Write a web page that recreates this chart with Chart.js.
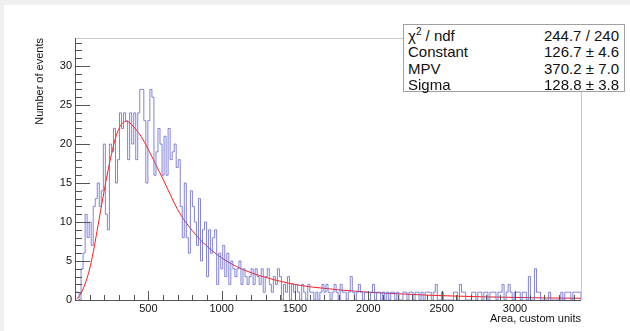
<!DOCTYPE html>
<html>
<head>
<meta charset="utf-8">
<script src="https://cdn.jsdelivr.net/npm/chart.js@4"></script>
<style>
  html, body { margin: 0; padding: 0; background: #f0f0f0; }
  #wrap { position: absolute; left: 4px; top: 5px; width: 626px; height: 326px; background: #fff; }
  #chart { position: absolute; left: 0; top: 0; }
  #stats {
    position: absolute; left: 399px; top: 19px; width: 220px; height: 66px;
    background: #fff; border: 1px solid #a0a0a0;
    font-family: "Liberation Sans", Arial, sans-serif; font-size: 15px; color: #111;
  }
  #stats .row { position: absolute; left: 4px; right: 5px; height: 17px; line-height: 17px; }
  #stats .k { position: absolute; left: 0; }
  #stats .v { position: absolute; right: 0; }
  #stats sup { font-size: 10px; line-height: 0; vertical-align: 6px; }
</style>
</head>
<body>
<div id="wrap">
  <canvas id="chart" width="626" height="326"></canvas>
  <div id="stats"></div>
</div>
<script>
// Histogram of pulse area with a Landau fit
const xMin = 0;
const xMax = 3450;
const yMax = 33.6;

// bin contents, 250 bins from xMin to xMax
const counts = [
    1, 1, 1, 0, 4,     6, 11, 8, 10, 7,    12, 13, 15, 12, 14,  20, 11, 9, 20, 19,
    22, 15, 18, 24, 22, 24, 23, 18, 24, 20, 24, 18, 24, 27, 27,  23, 15, 23, 27, 26,
    16, 19, 22, 20, 16, 21, 16, 22, 18, 19, 20, 17, 18, 12, 8,   15, 8, 6, 14, 12,
    10, 7, 13, 5, 9,    10, 3, 9, 6, 8,     9, 2, 6, 4, 7,       3, 6, 2, 5, 4,
    3, 4, 5, 2, 4,      3, 2, 3, 4, 2,      4, 3, 2, 4, 1,       3, 4, 2, 1, 3,
    2, 4, 3, 0, 2,      1, 3, 0, 2, 1,      2, 1, 0, 2, 1,       0, 2, 1, 1, 0,
    1, 0, 1, 2, 1,      2, 1, 0, 1, 2,      1, 0, 2, 1, 1,       0, 1, 3, 1, 0,
    1, 2, 1, 0, 1,      1, 0, 1, 2, 0,      1, 1, 0, 1, 0,       1, 0, 1, 1, 0,
    1, 0, 0, 1, 1,      0, 1, 1, 0, 1,      1, 0, 1, 0, 1,       1, 1, 0, 1, 2,
    0, 0, 1, 0, 0,      0, 0, 0, 1, 1,      0, 2, 1, 1, 0,       0, 0, 1, 1, 0,
    1, 1, 0, 1, 1,      0, 1, 1, 1, 0,      1, 1, 2, 0, 1,       2, 1, 0, 1, 1,
    1, 0, 1, 1, 0,      3, 0, 0, 4, 1,      1, 0, 0, 0, 0,       1, 0, 0, 0, 0,
    0, 1, 0, 1, 1,      1, 0, 1, 1, 1
];

// fitted Landau curve
const fitX = [10, 25, 50, 75, 100, 125, 150, 175, 200, 225, 250, 275, 300, 325, 350, 375, 400,
    450, 500, 550, 600, 650, 700, 750, 800, 850, 900, 950, 1000, 1100, 1200, 1300, 1400, 1500,
    1600, 1700, 1800, 1900, 2000, 2200, 2400, 2600, 2800, 3000, 3200, 3450];
const fitY = [0.1, 0.4, 1.2, 2.4, 4.0, 6.2, 8.8, 11.5, 14.1, 16.6, 18.8, 20.7, 22.0, 22.7, 22.9, 22.7, 22.2,
    21.0, 19.3, 17.4, 15.5, 13.5, 11.6, 10.1, 8.9, 7.8, 6.9, 6.1, 5.4, 4.3, 3.5, 2.9, 2.4, 2.0,
    1.7, 1.5, 1.3, 1.15, 1.0, 0.8, 0.62, 0.5, 0.4, 0.33, 0.27, 0.22];

const xTicks = [500, 1000, 1500, 2000, 2500, 3000];
const yTicks = [0, 5, 10, 15, 20, 25, 30];

const statLabels = ['χ<sup>2</sup> / ndf', 'Constant', 'MPV', 'Sigma'];
const statValues = ['244.7 / 240', '126.7 ± 4.6', '370.2 ± 7.0', '128.8 ± 3.8'];

// stats box
const statsBox = document.getElementById('stats');
statLabels.forEach((lab, i) => {
    const row = document.createElement('div');
    row.className = 'row';
    row.style.top = (1.5 + i * 16.5) + 'px';
    row.innerHTML = '<span class="k">' + lab + '</span><span class="v">' + statValues[i] + '</span>';
    statsBox.appendChild(row);
});

// histogram outline as stepped points
const binWidth = (xMax - xMin) / counts.length;
const histPoints = [{x: xMin, y: 0}];
counts.forEach((c, i) => histPoints.push({x: xMin + i * binWidth, y: c}));
histPoints.push({x: xMax, y: counts[counts.length - 1]});
histPoints.push({x: xMax, y: 0});

const fitPoints = fitX.map((x, i) => ({x: x, y: fitY[i]}));

const FONT = '"Liberation Sans", Arial, sans-serif';

// ROOT style frame and inward ticks
const rootFrame = {
    id: 'rootFrame',
    afterDatasetsDraw(chart) {
        const {ctx, chartArea: a, scales: {x, y}} = chart;
        ctx.save();
        ctx.lineWidth = 1;
        ctx.strokeStyle = '#c8c8c8';
        ctx.beginPath();
        ctx.moveTo(a.left, a.top + 0.5);
        ctx.lineTo(a.right + 0.5, a.top + 0.5);
        ctx.lineTo(a.right + 0.5, a.bottom);
        ctx.stroke();

        ctx.strokeStyle = '#555';
        ctx.beginPath();
        ctx.moveTo(a.left + 0.5, a.top);
        ctx.lineTo(a.left + 0.5, a.bottom + 0.5);
        ctx.lineTo(a.right, a.bottom + 0.5);
        for (let v = 0; v <= yMax; v += 1) {
            const py = Math.round(y.getPixelForValue(v)) + 0.5;
            const len = v % 5 === 0 ? 15 : 7;
            ctx.moveTo(a.left, py);
            ctx.lineTo(a.left + len, py);
        }
        for (let v = 0; v <= xMax; v += 100) {
            const px = Math.round(x.getPixelForValue(v)) + 0.5;
            const len = v % 500 === 0 ? 9 : 5;
            ctx.moveTo(px, a.bottom);
            ctx.lineTo(px, a.bottom - len);
        }
        ctx.stroke();
        ctx.restore();
    }
};

const config = {
    type: 'line',
    data: {
        datasets: [{
            label: 'Events',
            data: histPoints,
            stepped: 'after',
            borderColor: 'rgba(100, 100, 210, 0.8)',
            borderWidth: 1,
            pointRadius: 0,
            fill: false
        }, {
            label: 'Landau fit',
            data: fitPoints,
            borderColor: 'rgba(255, 0, 0, 0.9)',
            borderWidth: 1,
            pointRadius: 0,
            cubicInterpolationMode: 'monotone',
            fill: false
        }]
    },
    options: {
        responsive: false,
        animation: false,
        layout: { padding: { left: 0, top: 33, right: 49, bottom: 0 } },
        plugins: {
            legend: { display: false },
            tooltip: { enabled: false }
        },
        scales: {
            x: {
                type: 'linear',
                min: xMin,
                max: xMax,
                grid: { display: false, drawTicks: false },
                border: { display: false },
                afterBuildTicks: s => { s.ticks = xTicks.map(v => ({value: v})); },
                afterFit: s => { s.height = 31; },
                ticks: {
                    autoSkip: false, maxRotation: 0, padding: 2, color: '#111',
                    font: { family: FONT, size: 11 },
                    callback: v => String(v)
                },
                title: {
                    display: true, text: 'Area, custom units', align: 'end', color: '#111',
                    font: { family: FONT, size: 11 }, padding: { top: 0, bottom: 5 }
                }
            },
            y: {
                type: 'linear',
                min: 0,
                max: yMax,
                grid: { display: false, drawTicks: false },
                border: { display: false },
                afterBuildTicks: s => { s.ticks = yTicks.map(v => ({value: v})); },
                afterFit: s => { s.width = 71; },
                ticks: { padding: 3, color: '#111', font: { family: FONT, size: 11 }, callback: v => String(v) },
                title: {
                    display: true, text: 'Number of events', align: 'end', color: '#111',
                    font: { family: FONT, size: 11 }, padding: { top: 29, bottom: 0 }
                }
            }
        }
    },
    plugins: [rootFrame]
};

const histChart = new Chart(document.getElementById('chart'), config);
</script>
</body>
</html>
